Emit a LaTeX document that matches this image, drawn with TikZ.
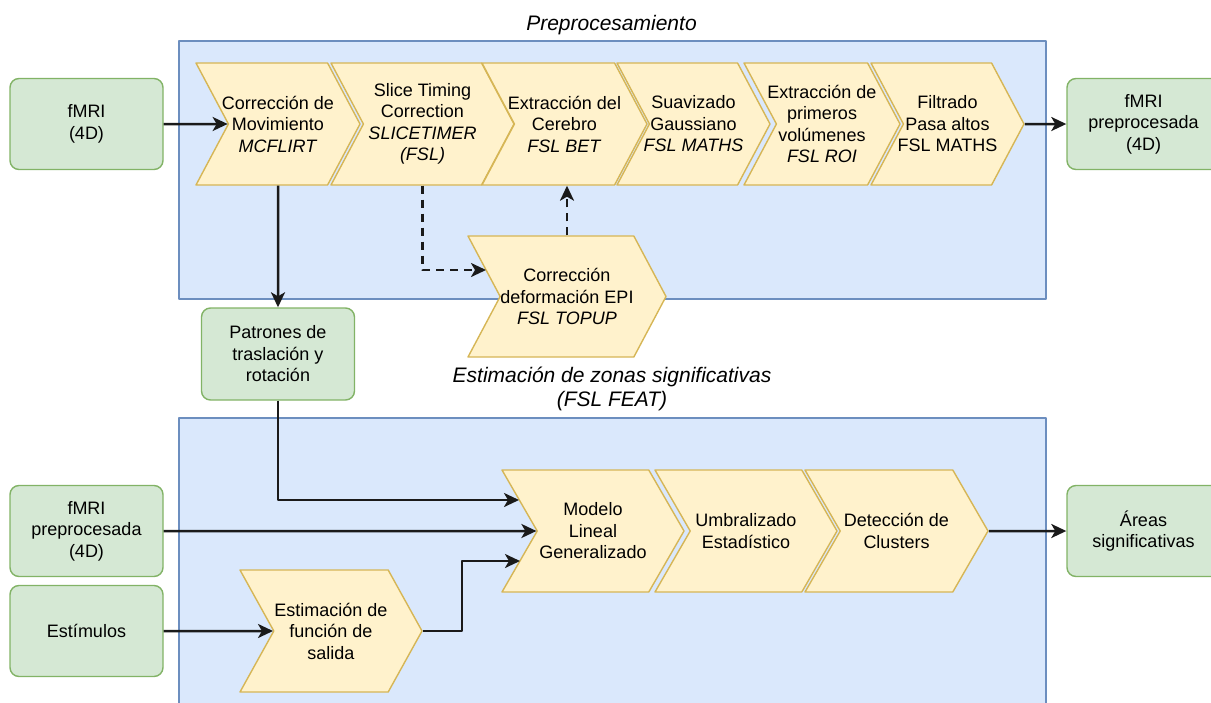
\documentclass[tikz,border=0pt]{standalone}
\usepackage{fontspec}
\setmainfont{Liberation Sans}
\usetikzlibrary{shapes.symbols,arrows.meta,calc}

\definecolor{grupofondo}{HTML}{DAE8FC}
\definecolor{grupoborde}{HTML}{6C8EBF}
\definecolor{pasofondo}{HTML}{FFF2CC}
\definecolor{pasoborde}{HTML}{D6B656}
\definecolor{datofondo}{HTML}{D5E8D4}
\definecolor{datoborde}{HTML}{82B366}
\definecolor{linea}{HTML}{1A1A1A}

\tikzset{
	grupo/.style={draw=grupoborde, fill=grupofondo, line width=0.7pt},
	titulo/.style={font=\fontsize{10.5}{12}\selectfont\itshape, align=center, inner sep=0pt},
	paso/.style={signal, signal to=east, signal from=west, signal pointer angle=124,
		draw=pasoborde, fill=pasofondo, line width=0.7pt, minimum height=61pt,
		inner xsep=-20pt, inner ysep=0pt, align=center},
	dato/.style={draw=datoborde, fill=datofondo, line width=0.7pt, rounded corners=4.5pt,
		minimum width=76.5pt, minimum height=45.5pt, align=center},
	flecha/.style={->, draw=linea, line width=1.25pt},
	discont/.style={flecha, dash pattern=on 4pt off 3pt}
}

\begin{document}
\begin{tikzpicture}[x=0.5pt, y=-0.5pt, >={Stealth[length=7.5pt,width=7pt,inset=2pt]},
	font=\fontsize{9}{10.75}\selectfont, line join=round]
	\useasboundingbox (0,0) rectangle (1211,702);
	% cajas de fondo
	\draw[grupo] (179,41) rectangle (1046,299);
	\draw[grupo] (179,418) rectangle (1046,730);
	\node[titulo] (tpre) at (611.5,25) {Preprocesamiento};
	\node[titulo] (tfeat) at (612,389) {Estimación de zonas significativas\\(FSL FEAT)};

	% preprocesado
	\node[paso, minimum width=82pt] (mcflirt) at (278,124) {Corrección de\\Movimiento\\\textit{MCFLIRT}};
	\node[paso, minimum width=91.5pt] (slice) at (422.5,124) {Slice Timing\\Correction\\\textit{SLICETIMER}\\\textit{(FSL)}};
	\node[paso, minimum width=82.5pt] (bet) at (564.5,124) {Extracción del\\Cerebro\\\textit{FSL BET}};
	\node[paso, minimum width=76.5pt] (suav) at (693.5,124) {Suavizado\\Gaussiano\\\textit{FSL MATHS}};
	\node[paso, minimum width=78pt] (roi) at (822,124) {Extracción de\\primeros\\volúmenes\\\textit{FSL ROI}};
	\node[paso, minimum width=76.5pt] (filt) at (947.5,124) {Filtrado\\Pasa altos\\FSL MATHS};
	\node[paso, minimum width=99pt, minimum height=60.5pt] (epi) at (567,296.5) {Corrección\\deformación EPI\\\textit{FSL TOPUP}};

	% FEAT
	\node[paso, signal pointer angle=120, minimum width=91pt] (modelo) at (593,531) {Modelo\\Lineal\\Generalizado};
	\node[paso, signal pointer angle=120, minimum width=91pt] (umbral) at (746,531) {Umbralizado\\Estadístico};
	\node[paso, signal pointer angle=120, minimum width=91.5pt] (clusters) at (896.5,531) {Detección de\\Clusters};
	\node[paso, signal pointer angle=122, minimum width=91pt] (estim) at (331,631) {Estimación de\\función de\\salida};

	% entradas y salidas
	\node[dato] (fmri) at (86.5,124) {fMRI\\(4D)};
	\node[dato] (fmripre) at (1143.5,124) {fMRI\\preprocesada\\(4D)};
	\node[dato, minimum height=46pt] (patrones) at (278,354) {Patrones de\\traslación y\\rotación};
	\node[dato] (fmri2) at (86.5,531) {fMRI\\preprocesada\\(4D)};
	\node[dato] (estimulos) at (86.5,631) {Estímulos};
	\node[dato] (areas) at (1143.5,531) {Áreas\\significativas};

	\coordinate (epi-in) at (486,270);
	\coordinate (modelo-a) at (519,500);
	\coordinate (modelo-c) at (520,561);

	% conexiones
	\draw[flecha] (fmri) -- (mcflirt);
	\draw[flecha] (filt) -- (fmripre);
	\draw[flecha] (mcflirt) -- (patrones);
	\draw[discont] (slice.south) |- (epi-in);
	\draw[discont] (epi.north) -- (epi.north |- bet.south);
	\draw[flecha] (patrones) |- (modelo-a);
	\draw[flecha] (fmri2) -- (modelo);
	\draw[flecha] (estimulos) -- (estim);
	\draw[flecha] (estim.east) -- ++(39,0) |- (modelo-c);
	\draw[flecha] (clusters) -- (areas);
\end{tikzpicture}
\end{document}
